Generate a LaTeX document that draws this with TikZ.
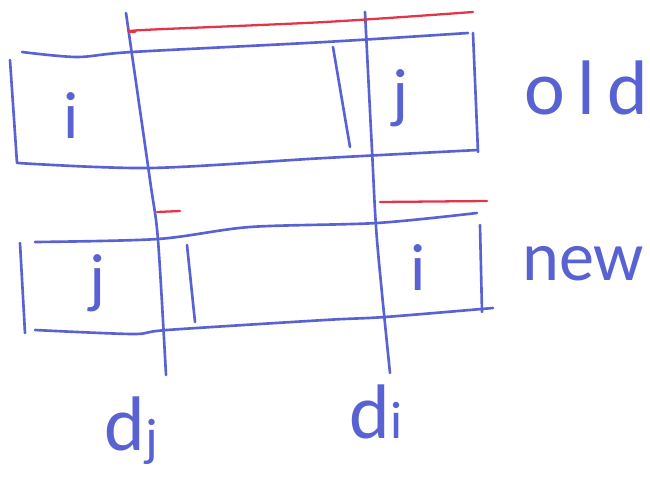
\documentclass[tikz,border=0pt]{standalone}
\usepackage{fontspec}
\newfontfamily\handfont{Carlito}
\definecolor{penblue}{RGB}{88,98,210}
\definecolor{penred}{RGB}{228,52,72}

\begin{document}
\begin{tikzpicture}[
  x=0.02cm, y=-0.02cm,
  pen/.style={draw=penblue, line width=1.5pt, line cap=round, line join=round},
  redpen/.style={draw=penred, line width=1.3pt, line cap=round},
  hand/.style={text=penblue, font=\handfont\fontsize{34}{40}\selectfont,
               anchor=base, inner sep=0pt},
  cell/.style={hand, font=\handfont\fontsize{38}{44}\selectfont}
]
  \useasboundingbox (0,0) rectangle (650,477);

  \draw[pen] plot[smooth, tension=0.5] coordinates {(126,13) (150,180) (158,240) (166,375)};
  \draw[pen] plot[smooth, tension=0.5] coordinates {(365,12) (372,150) (377,240) (390,373)};

  \draw[pen] plot[smooth, tension=0.5] coordinates
    {(22,52) (77,57) (132,52) (325,42) (468,33)};
  \draw[pen] plot[smooth, tension=0.5] coordinates
    {(18,163) (150,168) (325,158) (478,150)};
  \draw[pen] (10,60) -- (17,163);
  \draw[pen] (473,33) -- (478,152);
  \draw[pen] (333,47) -- (350,147);

  \draw[pen] plot[smooth, tension=0.5] coordinates
    {(35,242) (158,239) (250,227) (377,223) (477,213)};
  \draw[pen] plot[smooth, tension=0.5] coordinates
    {(35,330) (133,334) (167,330) (325,320) (385,317) (493,308)};
  \draw[pen] (20,243) -- (25,333);
  \draw[pen] (480,225) -- (482,312);
  \draw[pen] (187,245) -- (195,322);

  \draw[redpen] plot[smooth, tension=0.5] coordinates
    {(135,32) (143,30) (325,22) (473,12)};
  \draw[redpen] (157,212) -- (180,211);
  \draw[redpen] (380,202) -- (487,201);

  \node[cell] (oldi) at (71,138) {i};
  \node[cell] (oldj) at (400,115) {j};
  \node[cell] (newj) at (97,300) {j};
  \node[cell] (newi) at (418,290) {i};

  \node[hand, anchor=base west, font=\handfont\fontsize{44}{50}\selectfont]
    (old) at (524,114) {o\kern7pt l\kern7pt d};
  \node[hand, anchor=base west, font=\handfont\fontsize{40}{46}\selectfont]
    (new) at (522,280) {new};

  \node[hand, font=\handfont\fontsize{44}{50}\selectfont] (dj) at (131,450)
    {d\raisebox{-3pt}{\fontsize{30}{34}\selectfont j}};
  \node[hand, font=\handfont\fontsize{44}{50}\selectfont] (di) at (376,438)
    {d{\fontsize{30}{34}\selectfont i}};
\end{tikzpicture}
\end{document}
